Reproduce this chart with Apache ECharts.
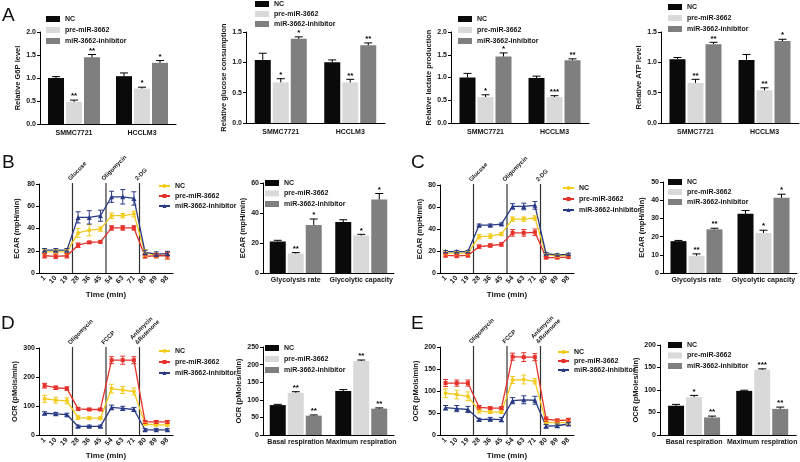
<!DOCTYPE html>
<html><head><meta charset="utf-8">
<script src="https://cdn.jsdelivr.net/npm/echarts@6/dist/echarts.min.js"></script>
<style>html,body{margin:0;padding:0;background:#fff}#c{width:800px;height:462px}</style>
</head><body><div id="c"></div>
<script>
// ---------------- DATA ----------------
const GROUPS = ['NC', 'pre-miR-3662', 'miR-3662-inhibitor'];
const CELL_LINES = ['SMMC7721', 'HCCLM3'];
const GLYCO_CATS = ['Glycolysis rate', 'Glycolytic capacity'];
const RESP_CATS = ['Basal respiration', 'Maximum respiration'];
const TIME_LABELS = ['1', '10', '19', '28', '36', '45', '54', '63', '71', '80', '89', '98'];
const ECAR_EVENTS = ['Glucose', 'Oligomycin', '2-DG'];
const OCR_EVENTS = ['Oligomycin', 'FCCP', 'Antimycin\n&Rotenone'];
const EVENT_AFTER_INDEX = [2, 5, 8];

// rows: NC, pre-miR-3662, miR-3662-inhibitor ; cols: categories
const A_G6P_MEAN = [[1.00, 1.04], [0.48, 0.77], [1.45, 1.33]];
const A_G6P_ERR = [[0.03, 0.07], [0.04, 0.03], [0.06, 0.05]];
const A_G6P_STARS = [['', ''], ['**', '*'], ['**', '*']];
const A_GLU_MEAN = [[1.04, 1.00], [0.67, 0.67], [1.39, 1.28]];
const A_GLU_ERR = [[0.11, 0.04], [0.06, 0.05], [0.03, 0.04]];
const A_GLU_STARS = [['', ''], ['*', '**'], ['*', '**']];
const A_LAC_MEAN = [[1.00, 0.99], [0.57, 0.57], [1.46, 1.38]];
const A_LAC_ERR = [[0.09, 0.04], [0.05, 0.03], [0.08, 0.03]];
const A_LAC_STARS = [['', ''], ['*', '***'], ['*', '**']];
const A_ATP_MEAN = [[1.05, 1.04], [0.66, 0.54], [1.30, 1.35]];
const A_ATP_ERR = [[0.03, 0.09], [0.06, 0.04], [0.03, 0.03]];
const A_ATP_STARS = [['', ''], ['**', '**'], ['**', '*']];

const B_BAR_MEAN = [[21, 34], [13, 25], [32, 49]];
const B_BAR_ERR = [[0.8, 1.5], [0.6, 0.8], [4, 4]];
const B_BAR_STARS = [['', ''], ['**', '*'], ['*', '*']];
const C_BAR_MEAN = [[17.5, 32.5], [9.5, 22], [24, 41.3]];
const C_BAR_ERR = [[0.4, 1.8], [1, 1.5], [0.6, 2]];
const C_BAR_STARS = [['', ''], ['**', '*'], ['**', '*']];
const D_BAR_MEAN = [[85, 125], [120, 210], [55, 75]];
const D_BAR_ERR = [[2, 4], [3, 3], [2, 2]];
const D_BAR_STARS = [['', ''], ['**', '**'], ['**', '**']];
const E_BAR_MEAN = [[65, 98], [84, 145], [39, 58]];
const E_BAR_ERR = [[3, 1.5], [4, 2], [3, 4]];
const E_BAR_STARS = [['', ''], ['*', '***'], ['**', '**']];

const B_LINE_MEAN = [
  [19, 19, 19, 36, 38.5, 39.5, 51.5, 51.5, 53, 18, 16, 16],
  [15.5, 15, 15.5, 25, 27.5, 28, 40.5, 40.5, 40.5, 15, 15.5, 15.5],
  [20.5, 20.5, 20.5, 50, 50, 51.5, 68.5, 68.5, 67, 18.5, 17, 17.5]];
const B_LINE_ERR = [
  [2, 2, 2, 4, 5, 2, 2.5, 2, 2.5, 3, 2, 3],
  [2, 2, 2, 2, 1, 1, 2, 2, 2, 1.5, 2, 3],
  [1.5, 1.5, 1.5, 5, 6, 5, 5, 6.5, 6, 2, 2, 2]];
const C_LINE_MEAN = [
  [18, 18, 18, 33, 33.5, 35.5, 49, 49, 50, 16.5, 15.5, 16],
  [16, 15.5, 16, 24, 25, 26, 36.5, 36.5, 37, 14, 14, 14.5],
  [19.5, 19.5, 19.5, 43.5, 43.5, 44.5, 60.5, 60.5, 61.5, 17.5, 16.5, 17]];
const C_LINE_ERR = [
  [1.5, 1.5, 1.5, 2, 2, 1.5, 2, 2, 2, 1.5, 1.5, 1.5],
  [1.5, 1.5, 1.5, 1.5, 1.5, 1.5, 3, 3, 3, 1, 1, 1],
  [1, 1, 1, 1, 1, 1, 2.5, 3, 3.5, 1, 1, 1]];
const D_LINE_MEAN = [
  [125, 120, 118, 60, 58, 58, 160, 155, 150, 38, 35, 35],
  [170, 163, 160, 90, 88, 88, 258, 258, 258, 45, 45, 45],
  [75, 73, 70, 30, 30, 30, 95, 92, 88, 18, 18, 18]];
const D_LINE_ERR = [
  [12, 10, 10, 6, 5, 5, 15, 12, 12, 5, 5, 5],
  [8, 6, 6, 5, 4, 4, 12, 14, 12, 5, 5, 5],
  [5, 5, 5, 4, 4, 4, 8, 7, 7, 4, 4, 4]];
const E_LINE_MEAN = [
  [95, 92, 88, 55, 52, 52, 125, 126, 122, 28, 28, 28],
  [118, 118, 118, 63, 61, 61, 178, 177, 177, 36, 33, 34],
  [62, 60, 58, 35, 36, 35, 78, 80, 79, 20, 21, 25]];
const E_LINE_ERR = [
  [10, 10, 10, 5, 3, 3, 8, 10, 6, 5, 4, 4],
  [8, 7, 7, 4, 3, 3, 8, 10, 8, 5, 3, 4],
  [5, 7, 7, 3, 4, 5, 7, 9, 9, 4, 4, 3]];

// ---------------- STYLE ----------------
const FONT = '"Liberation Sans", Arial, sans-serif';
const TXT = '#151515';
const BAR_COLORS = ['#0a0a0a', '#d9d9d9', '#7f7f7f'];
const LINE_COLORS = ['#f2cb1d', '#e5322c', '#2a3a84'];
const LINE_SYMBOLS = ['circle', 'rect', 'triangle'];
const ZW = '\u200b';
const BAR_W = 16, BAR_STEP = 18;

const option = {
  animation: false, backgroundColor: '#ffffff',
  textStyle: { fontFamily: FONT },
  grid: [], xAxis: [], yAxis: [], series: [], legend: [], graphic: []
};

function yAxisFor(p, gi) {
  return {
    type: 'value', gridIndex: gi, min: 0, max: p.max, interval: p.interval,
    name: p.yName, nameLocation: 'middle', nameGap: p.nameGap,
    nameTextStyle: { fontSize: 7.5, fontWeight: 'bold', color: TXT, fontFamily: FONT },
    axisLine: { show: true, lineStyle: { color: '#000', width: 1 } },
    axisTick: { show: true, length: 3, lineStyle: { color: '#000' } },
    splitLine: { show: false },
    axisLabel: { fontSize: 7, fontWeight: 'bold', color: TXT, margin: 4, fontFamily: FONT,
      formatter: v => p.decimals ? v.toFixed(p.decimals) : String(v) }
  };
}

function addBarPanel(p) {
  const gi = option.grid.length;
  option.grid.push({ left: p.box[0], top: p.box[1], width: p.box[2], height: p.box[3] });
  option.xAxis.push({
    type: 'category', gridIndex: gi, data: p.cats,
    axisLine: { lineStyle: { color: '#000', width: 1 } },
    axisTick: { alignWithLabel: true, length: 3, lineStyle: { color: '#000' } },
    axisLabel: { fontSize: 7, fontWeight: 'bold', color: TXT, margin: p.catMargin, interval: 0, fontFamily: FONT }
  });
  option.yAxis.push(yAxisFor(p, gi));
  GROUPS.forEach((g, k) => {
    option.series.push({ type: 'bar', name: g + ZW, xAxisIndex: gi, yAxisIndex: gi,
      data: p.mean[k], barWidth: BAR_W, barGap: '12.5%', silent: true,
      itemStyle: { color: BAR_COLORS[k] } });
  });
  const err = [], stars = [];
  p.mean.forEach((row, k) => row.forEach((m, c) => { err.push([c, m, p.err[k][c], k]); stars.push(p.stars[k][c]); }));
  option.series.push({
    type: 'custom', xAxisIndex: gi, yAxisIndex: gi, data: err, z: 5, silent: true,
    renderItem: (params, api) => {
      const c = api.value(0), m = api.value(1), e = api.value(2), k = api.value(3);
      const base = api.coord([c, m]);
      const top = api.coord([c, m + e]);
      const x = base[0] + (k - 1) * BAR_STEP;
      const ch = [
        { type: 'line', shape: { x1: x, y1: base[1], x2: x, y2: top[1] }, style: { stroke: '#000', lineWidth: 1 } },
        { type: 'line', shape: { x1: x - 4, y1: top[1], x2: x + 4, y2: top[1] }, style: { stroke: '#000', lineWidth: 1 } }
      ];
      const s = stars[params.dataIndex];
      if (s) ch.push({ type: 'text', x: x, y: top[1], style: { text: s, fontSize: 8, fontWeight: 'bold', fontFamily: FONT, fill: '#000', align: 'center', verticalAlign: 'bottom' } });
      return { type: 'group', children: ch };
    }
  });
  option.legend.push({
    orient: 'vertical', left: p.legend[0], top: p.legend[1], itemGap: p.legend[2], padding: 0,
    itemWidth: 14, itemHeight: 6, icon: 'rect', selectedMode: false,
    data: GROUPS.map(g => g + ZW),
    textStyle: { fontSize: 7, fontWeight: 'bold', color: TXT, lineHeight: 8, fontFamily: FONT }
  });
}

function addLinePanel(p) {
  const gi = option.grid.length;
  option.grid.push({ left: p.box[0], top: p.box[1], width: p.box[2], height: p.box[3] });
  option.xAxis.push({
    type: 'category', gridIndex: gi, data: TIME_LABELS, boundaryGap: true,
    name: 'Time (min)', nameLocation: 'middle', nameGap: p.xNameGap,
    nameTextStyle: { fontSize: 8, fontWeight: 'bold', color: TXT, fontFamily: FONT },
    axisLine: { lineStyle: { color: '#000', width: 1 } },
    axisTick: { alignWithLabel: true, length: 3, lineStyle: { color: '#000' } },
    axisLabel: { rotate: 45, fontSize: 7, fontWeight: 'bold', color: TXT, margin: 4, interval: 0, fontFamily: FONT }
  });
  option.yAxis.push(yAxisFor(p, gi));
  // event lines
  option.series.push({
    type: 'custom', xAxisIndex: gi, yAxisIndex: gi, silent: true, z: 1,
    data: EVENT_AFTER_INDEX.map(i => [i, 0]),
    renderItem: (params, api) => {
      const i = api.value(0);
      const x = (api.coord([i, 0])[0] + api.coord([i + 1, 0])[0]) / 2;
      const cs = params.coordSys;
      return { type: 'group', children: [
        { type: 'line', shape: { x1: x, y1: cs.y - 1, x2: x, y2: cs.y + cs.height }, style: { stroke: '#333', lineWidth: 1.2 } },
        { type: 'text', x: x - 1, y: cs.y - 2, rotation: Math.PI / 4,
          style: { text: p.events[params.dataIndex], fontSize: 6, fontWeight: 'bold', fontFamily: FONT, fill: TXT, align: 'left', verticalAlign: 'bottom', lineHeight: 7 } }
      ] };
    }
  });
  p.mean.forEach((vals, k) => {
    option.series.push({ type: 'line', name: GROUPS[k], xAxisIndex: gi, yAxisIndex: gi, data: vals,
      symbol: LINE_SYMBOLS[k], symbolSize: k === 2 ? 5 : 4, silent: true, z: 3,
      itemStyle: { color: LINE_COLORS[k] }, lineStyle: { color: LINE_COLORS[k], width: 1.3 } });
  });
  const err = [];
  p.mean.forEach((vals, k) => vals.forEach((m, i) => err.push([i, m, p.err[k][i], k])));
  option.series.push({
    type: 'custom', xAxisIndex: gi, yAxisIndex: gi, data: err, z: 4, silent: true,
    renderItem: (params, api) => {
      const i = api.value(0), m = api.value(1), e = api.value(2), k = api.value(3);
      const lo = api.coord([i, m - e]), hi = api.coord([i, m + e]);
      const x = lo[0], col = LINE_COLORS[k];
      return { type: 'group', children: [
        { type: 'line', shape: { x1: x, y1: lo[1], x2: x, y2: hi[1] }, style: { stroke: col, lineWidth: 1 } },
        { type: 'line', shape: { x1: x - 2.5, y1: lo[1], x2: x + 2.5, y2: lo[1] }, style: { stroke: col, lineWidth: 1 } },
        { type: 'line', shape: { x1: x - 2.5, y1: hi[1], x2: x + 2.5, y2: hi[1] }, style: { stroke: col, lineWidth: 1 } }
      ] };
    }
  });
  option.legend.push({
    orient: 'vertical', left: p.legend[0], top: p.legend[1], itemGap: p.legend[2], padding: 0,
    itemWidth: 11, itemHeight: 5, selectedMode: false, data: GROUPS.slice(),
    textStyle: { fontSize: 7, fontWeight: 'bold', color: TXT, lineHeight: 8, fontFamily: FONT }
  });
}

// ---------------- PANELS ----------------
addBarPanel({ box: [40, 32, 136, 92], cats: CELL_LINES, catMargin: 6, mean: A_G6P_MEAN, err: A_G6P_ERR, stars: A_G6P_STARS,
  max: 2, interval: 0.5, decimals: 1, yName: 'Relative G6P level', nameGap: 15, legend: [46, 15, 3] });
addBarPanel({ box: [246, 32, 139, 91], cats: CELL_LINES, catMargin: 6, mean: A_GLU_MEAN, err: A_GLU_ERR, stars: A_GLU_STARS,
  max: 1.5, interval: 0.5, decimals: 1, yName: 'Relative glucose consumption', nameGap: 14, legend: [255, 0, 2] });
addBarPanel({ box: [451, 32, 138, 91], cats: CELL_LINES, catMargin: 6, mean: A_LAC_MEAN, err: A_LAC_ERR, stars: A_LAC_STARS,
  max: 2, interval: 0.5, decimals: 1, yName: 'Relative lactate production', nameGap: 15, legend: [458, 15, 3] });
addBarPanel({ box: [661, 32, 138, 91], cats: CELL_LINES, catMargin: 6, mean: A_ATP_MEAN, err: A_ATP_ERR, stars: A_ATP_STARS,
  max: 1.5, interval: 0.5, decimals: 1, yName: 'Relative ATP level', nameGap: 16, legend: [668, 3, 3] });

addLinePanel({ box: [39, 184, 134, 89], mean: B_LINE_MEAN, err: B_LINE_ERR, events: ECAR_EVENTS,
  max: 80, interval: 20, yName: 'ECAR (mpH/min)', nameGap: 18, xNameGap: 18, legend: [158, 182, 2] });
addBarPanel({ box: [263, 183, 131, 90], cats: GLYCO_CATS, catMargin: 4, mean: B_BAR_MEAN, err: B_BAR_ERR, stars: B_BAR_STARS,
  max: 60, interval: 20, yName: 'ECAR (mpH/min)', nameGap: 16, legend: [265, 179, 2.5] });
addLinePanel({ box: [440, 185, 134, 88], mean: C_LINE_MEAN, err: C_LINE_ERR, events: ECAR_EVENTS,
  max: 80, interval: 20, yName: 'ECAR (mpH/min)', nameGap: 14, xNameGap: 18, legend: [562, 184, 3] });
addBarPanel({ box: [663, 182, 134, 91], cats: GLYCO_CATS, catMargin: 4, mean: C_BAR_MEAN, err: C_BAR_ERR, stars: C_BAR_STARS,
  max: 50, interval: 10, yName: 'ECAR (mpH/min)', nameGap: 17, legend: [668, 178, 2] });

addLinePanel({ box: [39, 348, 134, 87], mean: D_LINE_MEAN, err: D_LINE_ERR, events: OCR_EVENTS,
  max: 300, interval: 100, yName: 'OCR (pMols/min)', nameGap: 18, xNameGap: 17, legend: [158, 347, 3] });
addBarPanel({ box: [263, 347, 131, 88], cats: RESP_CATS, catMargin: 4, mean: D_BAR_MEAN, err: D_BAR_ERR, stars: D_BAR_STARS,
  max: 250, interval: 50, yName: 'OCR (pMoles/min)', nameGap: 16, legend: [265, 344, 3] });
addLinePanel({ box: [440, 347, 134, 88], mean: E_LINE_MEAN, err: E_LINE_ERR, events: OCR_EVENTS,
  max: 200, interval: 50, yName: 'OCR (pMols/min)', nameGap: 15, xNameGap: 17, legend: [557, 348, 1] });
addBarPanel({ box: [660, 345, 138, 90], cats: RESP_CATS, catMargin: 4, mean: E_BAR_MEAN, err: E_BAR_ERR, stars: E_BAR_STARS,
  max: 200, interval: 50, yName: 'OCR (pMoles/min)', nameGap: 20, legend: [668, 341, 2.5] });

// panel letters
[['A', 2, 6], ['B', 2, 153], ['C', 411, 153], ['D', 1, 314], ['E', 411, 314]].forEach(([t, x, y]) => {
  option.graphic.push({ type: 'text', left: x, top: y, silent: true,
    style: { text: t, fontSize: 19, fontFamily: FONT, fill: '#111' } });
});

const chart = echarts.init(document.getElementById('c'), null, { renderer: 'canvas', width: 800, height: 462 });
chart.setOption(option);
</script></body></html>
